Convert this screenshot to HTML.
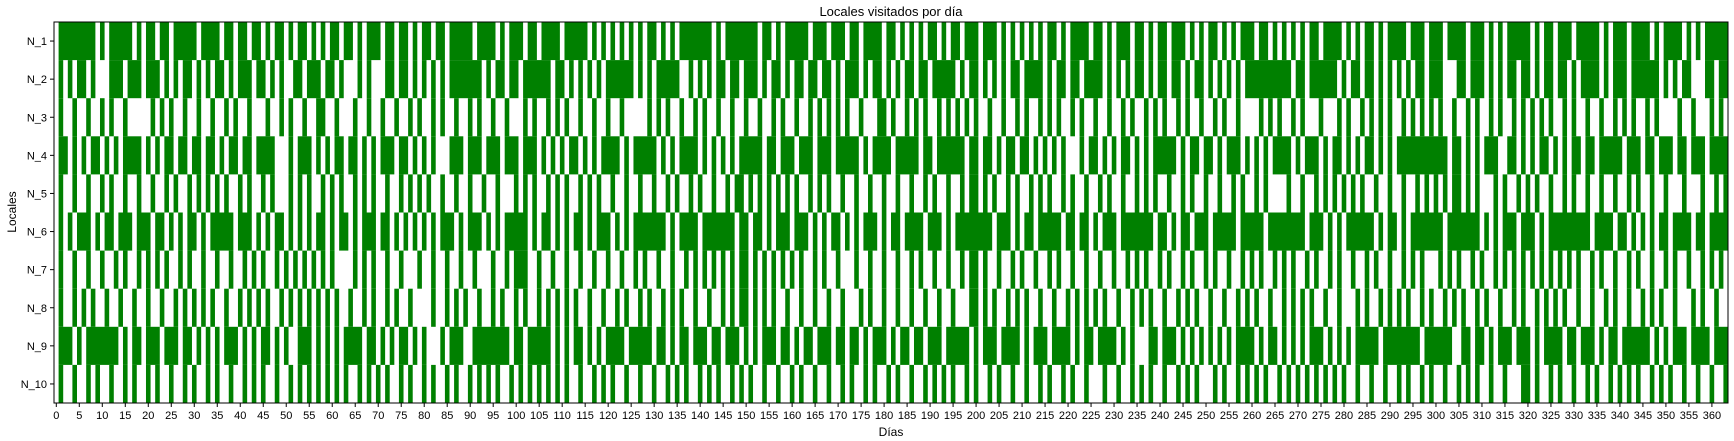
<!DOCTYPE html>
<html><head><meta charset="utf-8"><style>
html,body{margin:0;padding:0;background:#fff;}
svg{display:block;font-family:"Liberation Sans",sans-serif;}
</style></head><body>
<svg id="chart" width="1734" height="441" viewBox="0 0 1734 441" xmlns="http://www.w3.org/2000/svg">
<text x="891" y="16" text-anchor="middle" font-size="13" fill="#000">Locales visitados por día</text>
<g id="cells"></g>
<g id="xaxis"></g>
<g id="yaxis"></g>
<rect x="54" y="22" width="1674" height="381" fill="none" stroke="#000" stroke-width="1"/>
<text x="891" y="436" text-anchor="middle" font-size="12" fill="#000">Días</text>
<text x="16" y="212" text-anchor="middle" font-size="12" fill="#000" transform="rotate(-90 16 212)">Locales</text>
</svg>
<script>
const locations = ["N_1","N_2","N_3","N_4","N_5","N_6","N_7","N_8","N_9","N_10"];
const dayCount = 364;
const xTickValues = [0,5,10,15,20,25,30,35,40,45,50,55,60,65,70,75,80,85,90,95,100,105,110,115,120,125,130,135,140,145,150,155,160,165,170,175,180,185,190,195,200,205,210,215,220,225,230,235,240,245,250,255,260,265,270,275,280,285,290,295,300,305,310,315,320,325,330,335,340,345,350,355,360];
const visitsN1 = "1-8,10,12-16,18,20-21,23-24,26-30,32-35,37-38,40-41,43-44,46,48-49,51,53-54,56,58,60-61,63-64,66,68-70,72-73,75-76,78,80-81,83-84,86-90,92-95,97,99-101,103-104,106-109,111-115,117,119,121,123,125,127,129-130,132,134,136-142,144,146-152,154-155,157,159-163,165-167,169-171,173-174,176-179,181-182,184,186,188,190-191,193,195-196,198-200,202-204,206,208,210,212,214,216-217,219,221-224,226-227,229,231-233,235-236,238,240-241,243-245,247,249,251-252,254,256,258-260,262-263,265,267,269,271,273-274,276-279,281,283,285-286,288,290-293,295-297,299-301,303-306,308-310,312,314,316-320,322,324-325,327-329,331-335,337,339-341,343-346,348,350-353,355,357,359-363";
const visitsN2 = "1,3,5-6,8,12-14,16-18,20-22,24,26,28-29,31,33,35-36,38,40-42,44-45,47,49,52-53,55-57,59-60,62,66,68,72-73,75-76,78,80,82,84,86-92,94,96-97,99-100,102-107,109-110,112,114,116,118,120-125,127,129,131-135,138,140,142,144-145,147-148,150-152,154,156-157,159,161-162,164-165,167-168,170,172-174,176,178-179,181,183,185-186,188-189,191-195,197,199-200,202,204,206,208-209,211-214,216,218-219,221-222,224-227,229,231,233,235-236,238,240-241,243-244,246,248-249,251,253,255,257,259-268,270-271,273-278,280,282-283,285-286,288,290,292,294,296-297,299-301,305-306,308-310,312,314,316-317,319-320,322,324-325,327-328,330,332-335,337,339-341,343-348,350,352,354-355,359-360,362-363";
const visitsN3 = "1,4,7,10,12,15,21,23,25,28,31,34,37,39,42,46,49,51,54,57-58,61,65,68,71,74,77,79,82,84,87,90,92,95,98,102,104,107,109,111,114,117,120,123,129,131,133,136,139,141,144,147,150,153,156,158,161,164,166,168,170,172,175,179-180,182,185,187,189,192,194,196,198,200,203,206,209,211,214,216,218,221,223,226,229,232,234,237,239,241,244,246,249,252,254,257,262,264,266,269,271,275,279,281,284,286,288,290,293,295,297,299,301,304,307,309,312,314,317,319,321,323,325,328,330,333,336,339,341,343,346,348,353,356,360,362";
const visitsN4 = "1-2,4,6,8-9,11,13,15-18,20,22,24-25,27-28,30-31,33-34,36,38-39,41-42,44-47,51,53-55,57,59,61-62,64-65,67,69,71-73,75-76,78,80,82,86-88,90-92,94-96,98-100,102-104,106,108,110,112-113,115,117,119-122,124,126-130,132,134,136-139,141,143,145,147,149-153,155-156,158-160,162-164,166-168,170-174,176,178-181,183-187,189-190,192-197,199-200,202-203,205,207-208,210-211,213,215,217,219,223,225-226,228,230,232-233,235,237,239-243,245,247-248,250-251,253,255-257,259,261,263,265-268,270,272-274,276,278-279,281,283,285-286,288,290,292-302,304-305,307,309,311-313,316-317,319,321,323-324,326,328,330-331,333-334,336-340,342-344,346-347,349-351,353-354,356-358,360-363";
const visitsN5 = "1,4,7,10,12,15,18,21,24,26,29,31,33,35,37,40,42,45,47,51,53,55,58,60,62,65,67,69,72,75,77,79,81,84,87,90,93,96,100,102,104,107,109,111,114,116,118,121,124,127,130,133,135,138,140,143,146,148-149,151,153,155,157,159,161,164,166,168,171,174,177,180,183,186,189,191,194,197,199-200,202,204,207,209,212,214,216,219,221,224,227,229,232,235,237,239,242,245,247,250,253,256,258,261,263,268,271,274,276,278,280,282,284,287,290,293,296,298,300,302,304-305,307,309,313,315,318,320,322,325,328,330,333,336,339,342,344,347,350,354,358,361,363";
const visitsN6 = "1,3,5-7,9,11-12,14-16,18-20,22-23,25,27,29-30,32,34-38,40-42,44,46,48-49,51,53,55,57-58,60,62-63,65,67-69,71-72,74,76,78,80,82,84-86,88,90-92,94,96,98-102,104,106-107,109,111,113-114,116,118-120,122,124,126-132,134,136-139,141-147,149-150,152-153,155,157-159,161-163,165,167,169-170,172,174,176-178,180,182-183,185-188,190-192,194,196-203,205-207,209,211-212,214-218,220-221,223-224,226,228-230,232-238,240-241,243,245-246,248-250,252-256,258-262,264-271,273-275,277,279,281-286,288,290-291,293,295-301,303-309,311,313,315-317,319-321,323,325-333,335-338,340-341,343,345,347,349-350,352-355,357-358,360-363";
const visitsN7 = "1,4,7,10,13,15,18,20,22,24,27,29,32,35,38,41,43,45,48,50,52,54,56,58,60,65,67,69,72,75,79,82,85,88,91,95,98,100-102,105,108,111,114,117,120,123,126,128,131,134,137,139,141,143,145,147,149-150,152,154,156,158,160,162,165,167,170,174,177,180,183,186,188,191,194,197,199-200,202,205,208,210,213,216,218,221,224,227,230,233,235,237,240,242,245,247,250,252,255,258,260,262,265,267,269,272,274,277,279,282,285,287,290,293,295,297,301,303,305,308,310,313,315,317,319,321,323,325,327,329,331,334,336,339,342,344,347,350,352,355,358,360,362";
const visitsN8 = "1,4,6,8,11,14,17,20,23,26,28,30,32,34,37,40,42,44,46,49,51,53,55,57,59,61,64,67,69,72,74,77,82,85,87,89,92,95,97,100,102,105,107,109,111,113,116,119,122,124,127,129,132,134,136,139,142,145,147,149-150,152,154,156,159,162,165,168,171,175,177,180,183,186,189,192,195,199-200,202,204,207,209,211,214,217,220,222,224,226,228,231,234,236,238,241,244,246,248,251,254,257,259,261,264,267,269,271,273,276,279,283,285,288,290,292,294,297,299,302,304,306,309,311,314,317,319,322,324,326,328,331,334,337,339,342,345,347,349,352,356,358,361";
const visitsN9 = "1-3,5,7-13,15,17-18,20-22,24-26,28-29,31,33,35,37-39,41,43,45-46,48,50,53-55,57,59,61,63-66,68-69,71,73,75-76,78,80,84,86-88,91-98,100-101,103-107,109,111,113-114,116,118,120-123,125-129,131-132,134,136-137,139-141,143-144,146-148,150,152,154-156,158-159,161,163-164,166-168,170-171,173-174,176,178-180,182,184-185,187-188,190-192,194-198,200,202-204,206-209,211,213-215,217-220,222,224-225,227-230,232,234,238-239,241-243,245,247,249,251,253,255,257-260,262,264-265,267,269,271,273-275,277,279,281,283-287,289-296,298-303,306-307,309-310,312,314-316,318-320,322,324-327,329-330,332-334,336,338-339,341-346,348,350,352-354,356-359,361-363";
const visitsN10 = "1,4,7,9,12,15,17,20,22,25,28,30,33,35,38,41,43,45,48,51,53,55,57,59,61,63,66,68,70,72,75,77,80,82,85,87,90,92,94,96,99,101,103,105,107,109,111,114,117,119,121,124,127,130,133,135,137,140,142,144,147,149,151,154,157,160,162,165,168,171,173,176,178,181,183,186,189,191,193,195,198,200,203,205,208,211,214,216,219,221,224,228,231,234,236,238,241,244,246,248,252,254,257,259,261,263,266,268,270,272,274,276,278,280,283,286,289,292,294,297,299,302,305,307,309,312,315,319-320,322,325,327,330,333,335,338,340,342,344,347,349,351,354,357,360,363";
const visitSeries = [visitsN1,visitsN2,visitsN3,visitsN4,visitsN5,visitsN6,visitsN7,visitsN8,visitsN9,visitsN10];

const NS = "http://www.w3.org/2000/svg";
const plotL = 54, plotR = 1728, plotT = 22, plotB = 403;
const dayW = (plotR - plotL) / dayCount;
const rowH = (plotB - plotT) / locations.length;
function xScale(d){ return plotL + (d + 0.5) * dayW; }
function yScale(i){ return plotT + i * rowH; }
function parseRuns(s){
  return s.split(",").map(t => { const p = t.split("-").map(Number); return [p[0], p.length > 1 ? p[1] : p[0]]; });
}
function mk(tag, attrs){ const e = document.createElementNS(NS, tag); for (const k in attrs) e.setAttribute(k, attrs[k]); return e; }

const cells = document.getElementById("cells");
visitSeries.forEach((s, r) => {
  parseRuns(s).forEach(([a, b]) => {
    const end = Math.min(b, dayCount - 1);
    if (a > end) return;
    const x0 = xScale(a - 0.5), x1 = xScale(end + 0.5);
    const rect = mk("rect", {x: x0.toFixed(2), y: yScale(r).toFixed(2), width: (x1 - x0).toFixed(2), height: rowH.toFixed(2), fill: "#008000"});
    
    
    cells.appendChild(rect);
  });
});

const xaxis = document.getElementById("xaxis");
xTickValues.forEach(v => {
  const x = xScale(v);
  const tk = mk("line", {x1: x, x2: x, y1: plotB, y2: plotB + 4, stroke: "#000", "stroke-width": 1});
  
  
  xaxis.appendChild(tk);
  const lb = mk("text", {x: x, y: plotB + 16, "text-anchor": "middle", "font-size": 11, fill: "#000"});
  lb.textContent = String(v);
  
  
  xaxis.appendChild(lb);
});

const yaxis = document.getElementById("yaxis");
locations.forEach((name, i) => {
  const y = yScale(i) + rowH / 2;
  const tk = mk("line", {x1: plotL - 4, x2: plotL, y1: y, y2: y, stroke: "#000", "stroke-width": 1});
  
  
  yaxis.appendChild(tk);
  const lb = mk("text", {x: plotL - 7, y: y + 4, "text-anchor": "end", "font-size": 11, fill: "#000"});
  lb.textContent = name;
  
  
  yaxis.appendChild(lb);
});
</script>
</body></html>
